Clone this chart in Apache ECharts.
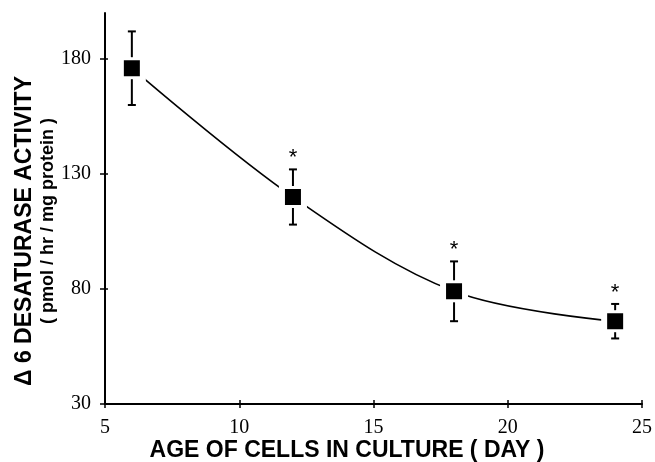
<!DOCTYPE html>
<html>
<head>
<meta charset="utf-8">
<script src="https://cdn.jsdelivr.net/npm/echarts@6/dist/echarts.min.js"></script>
<style>
html,body{margin:0;padding:0;background:#fff;}
#chart{width:655px;height:462px;}
</style>
</head>
<body>
<div id="chart"></div>
<script>
// ---- data ----
const days = [6, 12, 18, 24];
const activity = [176, 120, 79, 66];
const sem = [16, 12, 13, 7.5];
const starred = [false, true, true, true];
const xTicks = [5, 10, 15, 20, 25];
const yTicks = [30, 80, 130, 180];
const xTitle = 'AGE OF CELLS IN CULTURE ( DAY )';
const yTitle = 'Δ 6 DESATURASE ACTIVITY';
const ySubTitle = '( pmol / hr / mg protein )';

const chart = echarts.init(document.getElementById('chart'), null, {renderer: 'canvas'});
const labelFont = 'Liberation Serif';
const titleFont = 'Liberation Sans';

const axisCommonX = {
  type: 'value', min: xTicks[0], max: xTicks[xTicks.length - 1], interval: 5,
  position: 'bottom', splitLine: {show: false}
};
const axisCommonY = {
  type: 'value', min: yTicks[0], max: 200,
  position: 'left', splitLine: {show: false}
};

const option = {
  backgroundColor: '#fff',
  animation: false,
  grid: {left: 105, right: 10, top: 13, bottom: 58, containLabel: false},
  xAxis: [
    Object.assign({}, axisCommonX, {
      axisLine: {show: true, lineStyle: {color: '#000', width: 2}},
      axisTick: {show: true, inside: false, length: 4, lineStyle: {color: '#000', width: 1.5}},
      axisLabel: {show: true, margin: 14, color: '#000', fontFamily: labelFont, fontSize: 20}
    }),
    Object.assign({}, axisCommonX, {
      axisLine: {show: false},
      axisTick: {show: true, inside: true, length: 4, lineStyle: {color: '#000', width: 1.5}},
      axisLabel: {show: false}
    })
  ],
  yAxis: [
    Object.assign({}, axisCommonY, {
      axisLine: {show: true, lineStyle: {color: '#000', width: 2}},
      axisTick: {show: true, inside: false, length: 5, customValues: yTicks, lineStyle: {color: '#000', width: 1.5}},
      axisLabel: {show: true, margin: 14, customValues: yTicks, color: '#000', fontFamily: labelFont, fontSize: 20}
    }),
    Object.assign({}, axisCommonY, {
      axisLine: {show: false},
      axisTick: {show: true, inside: true, length: 3, customValues: yTicks, lineStyle: {color: '#000', width: 1.5}},
      axisLabel: {show: false, customValues: yTicks}
    })
  ],
  graphic: [
    {type: 'text', x: 25, y: 231, rotation: Math.PI / 2,
     style: {text: yTitle, font: 'bold 23px ' + titleFont, fill: '#000', align: 'center', verticalAlign: 'middle'}},
    {type: 'text', x: 48, y: 221, rotation: Math.PI / 2,
     style: {text: ySubTitle, font: 'bold 18px ' + titleFont, fill: '#000', align: 'center', verticalAlign: 'middle'}},
    {type: 'text', x: 347, y: 451,
     style: {text: xTitle, font: 'bold 23px ' + titleFont, fill: '#000', align: 'center', verticalAlign: 'middle'}}
  ],
  series: [
    {
      type: 'line',
      xAxisIndex: 0, yAxisIndex: 0,
      data: days.map((d, i) => [d, activity[i]]),
      smooth: 0.35,
      clip: false,
      symbol: 'rect',
      symbolSize: 22,
      showAllSymbol: true,
      lineStyle: {color: '#000', width: 1.6},
      itemStyle: {color: '#000', borderColor: '#fff', borderWidth: 6},
      z: 2
    },
    {
      type: 'custom',
      xAxisIndex: 0, yAxisIndex: 0,
      clip: false,
      z: 3,
      data: days.map((d, i) => [d, activity[i], sem[i], starred[i] ? 1 : 0]),
      renderItem: function (params, api) {
        const x = api.value(0), y = api.value(1), e = api.value(2), s = api.value(3);
        const c = api.coord([x, y]);
        const top = api.coord([x, y + e]);
        const bot = api.coord([x, y - e]);
        const gap = 11, cap = 4;
        const st = {stroke: '#000', lineWidth: 2};
        const children = [
          {type: 'line', shape: {x1: c[0], y1: c[1] - gap, x2: c[0], y2: top[1]}, style: st},
          {type: 'line', shape: {x1: c[0] - cap, y1: top[1], x2: c[0] + cap, y2: top[1]}, style: st},
          {type: 'line', shape: {x1: c[0], y1: c[1] + gap, x2: c[0], y2: bot[1]}, style: st},
          {type: 'line', shape: {x1: c[0] - cap, y1: bot[1], x2: c[0] + cap, y2: bot[1]}, style: st}
        ];
        if (s) {
          children.push({type: 'text', x: c[0], y: top[1] - 11,
            style: {text: '*', font: '22px ' + titleFont, fill: '#000', align: 'center', verticalAlign: 'middle'}});
        }
        return {type: 'group', children: children};
      }
    }
  ]
};
chart.setOption(option);
</script>
</body>
</html>
